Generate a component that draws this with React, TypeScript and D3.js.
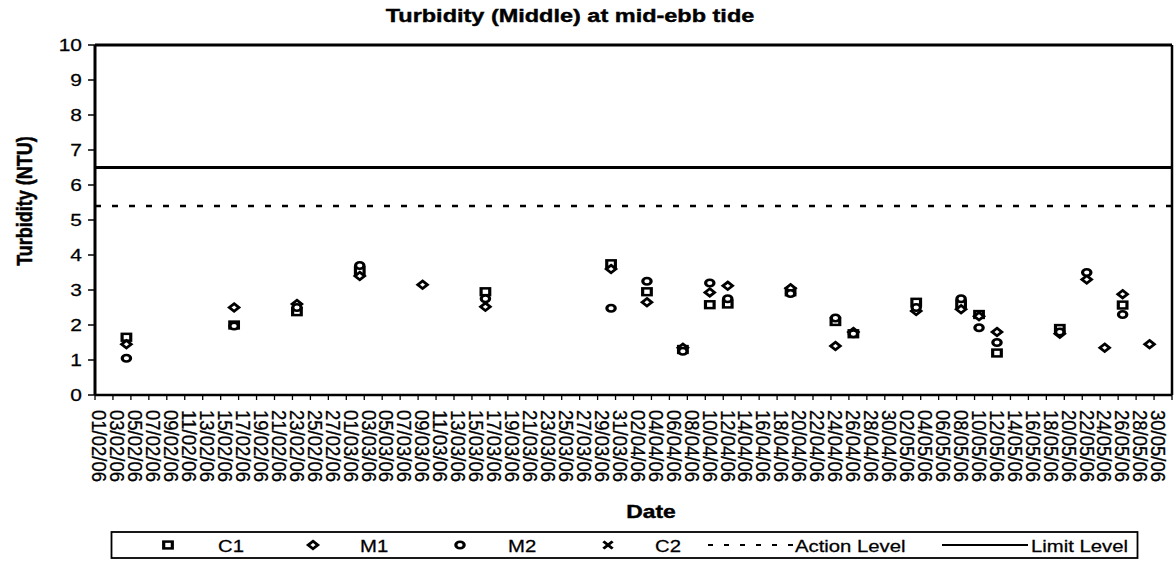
import React from "react";
import * as d3 from "d3";

// ---- data ----
const dates = [
  "04/02/06", "16/02/06", "23/02/06", "02/03/06", "09/03/06", "16/03/06",
  "30/03/06", "03/04/06", "07/04/06", "10/04/06", "12/04/06", "19/04/06",
  "24/04/06", "26/04/06", "03/05/06", "08/05/06", "10/05/06", "12/05/06",
  "19/05/06", "22/05/06", "24/05/06", "26/05/06", "29/05/06",
];
const c1Values = [1.65, 2.0, 2.38, 3.55, null, 2.95, 3.75, 2.95, 1.3, 2.58, 2.6, 2.95, 2.1, 1.75, 2.65, 2.6, 2.3, 1.2, 1.9, null, null, 2.57, null];
const m1Values = [1.45, 2.5, 2.6, 3.4, 3.15, 2.52, 3.6, 2.65, 1.35, 2.93, 3.12, 3.05, 1.4, 1.8, 2.4, 2.45, 2.25, 1.8, 1.75, 3.3, 1.35, 2.88, 1.45];
const m2Values = [1.05, 1.97, 2.5, 3.7, null, 2.75, 2.48, 3.25, 1.25, 3.2, 2.75, 2.9, 2.2, 1.75, 2.5, 2.75, 1.92, 1.5, 1.8, 3.5, null, 2.3, null];
const c2Values: (number | null)[] = [];
const actionLevel = 5.4;
const limitLevel = 6.5;
const yTicks = [0, 1, 2, 3, 4, 5, 6, 7, 8, 9, 10];
const axisStart = "01/02/06";
const axisEnd = "01/06/06";
const labelStepDays = 2;

const W = 1175;
const H = 562;
const SX = 1.27; // horizontal stretch of the scanned text/marks
const FONT = "'Liberation Sans', Arial, sans-serif";

const parse = d3.timeParse("%d/%m/%y");
const fmt = d3.timeFormat("%d/%m/%y");

type Kind = "square" | "diamond" | "circle" | "cross";

function Marker({ kind, x, y }: { kind: Kind; x: number; y: number }) {
  const sw = 2.5;
  let shape: React.ReactNode = null;
  if (kind === "square")
    shape = <rect x={-3.4} y={-3.4} width={6.8} height={6.8} fill="#fff" stroke="#000" strokeWidth={sw} />;
  else if (kind === "diamond")
    shape = <path d="M0,-3.8L3.8,0L0,3.8L-3.8,0Z" fill="#fff" stroke="#000" strokeWidth={sw} />;
  else if (kind === "circle")
    shape = <circle r={3.3} fill="#fff" stroke="#000" strokeWidth={sw} />;
  else
    shape = <path d="M-3.6,-3.6L3.6,3.6M-3.6,3.6L3.6,-3.6" fill="none" stroke="#000" strokeWidth={sw} />;
  return <g transform={`translate(${x},${y}) scale(${SX},1)`}>{shape}</g>;
}

function SText({ x, y, children, size, bold, anchor = "start", rotate = 0, len, baseline, heavy = 0.25 }: any) {
  return (
    <g transform={`translate(${x},${y}) scale(${SX},1)`}>
      <text
        transform={rotate ? `rotate(${rotate})` : undefined}
        fontFamily={FONT}
        fontSize={size}
        fontWeight={bold ? "bold" : "normal"}
        textAnchor={anchor}
        dominantBaseline={baseline}
        textLength={len}
        lengthAdjust={len ? "spacingAndGlyphs" : undefined}
        fill="#000"
        stroke="#000"
        strokeWidth={heavy}
      >
        {children}
      </text>
    </g>
  );
}

export default function App() {
  const left = 95, right = 1172, top = 45, bottom = 395;
  const t0 = parse(axisStart)!;
  const t1 = parse(axisEnd)!;
  const x = d3.scaleTime().domain([t0, t1]).range([left, right]);
  const y = d3.scaleLinear().domain([0, 10]).range([bottom, top]);
  const halfDay = (d: Date) => x(d3.timeHour.offset(d, 12));

  const nDays = d3.timeDay.count(t0, t1);
  const tickDays = d3.range(0, nDays + 1, labelStepDays).map((k) => d3.timeDay.offset(t0, k));
  const labelDays = tickDays.filter((d) => d < t1);

  const series: { name: string; kind: Kind; values: (number | null)[] }[] = [
    { name: "C1", kind: "square", values: c1Values },
    { name: "M1", kind: "diamond", values: m1Values },
    { name: "M2", kind: "circle", values: m2Values },
    { name: "C2", kind: "cross", values: c2Values },
  ];

  const legendY = 545;

  return (
    <svg width={W} height={H} style={{ position: "fixed", left: 0, top: 0, background: "#fff" }}>
      <rect width={W} height={H} fill="#fff" />
      {/* title */}
      <SText x={570} y={22} size={18.5} bold anchor="middle" heavy={0.4}>Turbidity (Middle) at mid-ebb tide</SText>

      {/* y axis title */}
      <SText x={31.5} y={201} size={18} bold anchor="middle" rotate={-90} heavy={0.4}>Turbidity (NTU)</SText>

      {/* y ticks and labels */}
      {yTicks.map((t) => (
        <g key={t}>
          <line x1={left - 7} x2={left} y1={y(t)} y2={y(t)} stroke="#000" strokeWidth={1.5} />
          <SText x={82} y={y(t) + 5.8} size={16.5} anchor="end">{t}</SText>
        </g>
      ))}

      {/* x ticks */}
      {tickDays.map((d, i) => (
        <line key={i} x1={x(d)} x2={x(d)} y1={bottom} y2={bottom + 5} stroke="#000" strokeWidth={1.3} />
      ))}
      {labelDays.map((d, i) => (
        <SText key={i} x={halfDay(d)} y={410} size={16.5} rotate={90} baseline="central" len={72}>
          {fmt(d)}
        </SText>
      ))}

      {/* reference lines */}
      <line x1={left} x2={right} y1={y(actionLevel)} y2={y(actionLevel)} stroke="#000" strokeWidth={2.5} strokeDasharray="6,11" />
      <line x1={left} x2={right} y1={y(limitLevel)} y2={y(limitLevel)} stroke="#000" strokeWidth={3} />

      {/* plot frame */}
      <line x1={left} x2={right} y1={top} y2={top} stroke="#000" strokeWidth={3} />
      <line x1={right} x2={right} y1={top} y2={bottom} stroke="#000" strokeWidth={2.5} />
      <line x1={left} x2={right} y1={bottom} y2={bottom} stroke="#000" strokeWidth={2.5} />
      <line x1={left} x2={left} y1={top} y2={bottom} stroke="#000" strokeWidth={3} />

      {/* points */}
      {series.map((s) =>
        s.values.map((v, i) =>
          v == null ? null : (
            <Marker key={s.name + i} kind={s.kind} x={halfDay(parse(dates[i])!)} y={y(v)} />
          )
        )
      )}

      {/* x axis title */}
      <SText x={651} y={518} size={18} bold anchor="middle" heavy={0.4}>Date</SText>

      {/* legend */}
      <rect x={111.5} y={532} width={1026} height={26} fill="#fff" stroke="#000" strokeWidth={1.8} />
      <Marker kind="square" x={168} y={legendY} />
      <SText x={218} y={551.5} size={16}>C1</SText>
      <Marker kind="diamond" x={313} y={legendY} />
      <SText x={360} y={551.5} size={16}>M1</SText>
      <Marker kind="circle" x={460} y={legendY} />
      <SText x={508} y={551.5} size={16}>M2</SText>
      <Marker kind="cross" x={608} y={legendY} />
      <SText x={655} y={551.5} size={16}>C2</SText>
      <line x1={708} x2={793} y1={legendY} y2={legendY} stroke="#000" strokeWidth={2.2} strokeDasharray="5,11" />
      <SText x={795} y={551.5} size={16}>Action Level</SText>
      <line x1={942} x2={1028} y1={legendY} y2={legendY} stroke="#000" strokeWidth={2} />
      <SText x={1031} y={551.5} size={16}>Limit Level</SText>
    </svg>
  );
}
